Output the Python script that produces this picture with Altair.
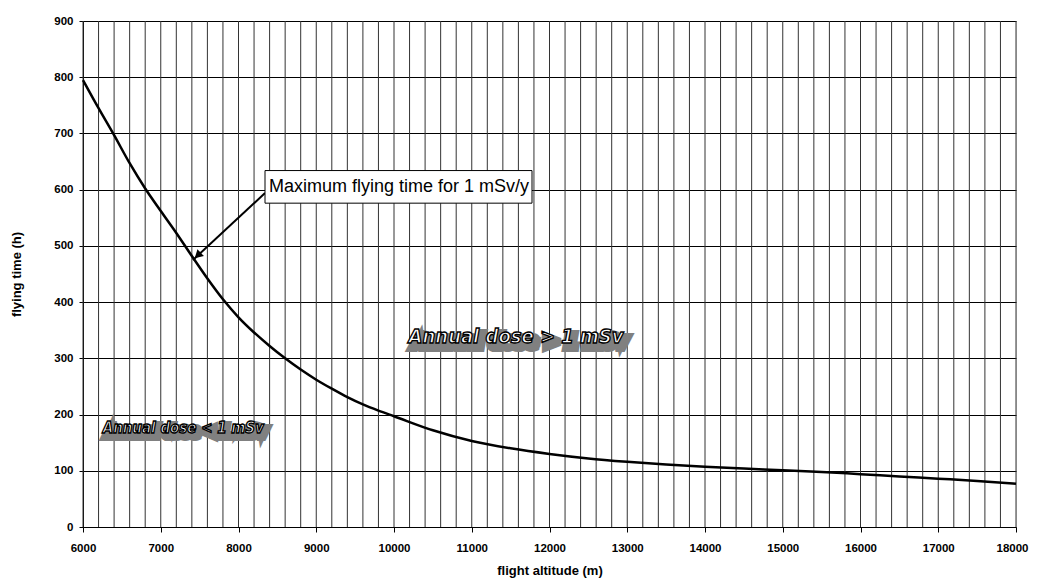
import altair as alt
import pandas as pd

# curve data
altitude = [6000, 6200, 6400, 6600, 6800, 7000, 7200, 7400, 7600, 7800, 8000,
            8200, 8400, 8600, 8800, 9000, 9200, 9400, 9600, 9800, 10000,
            10500, 11000, 11500, 12000, 12500, 13000, 13500, 14000, 14500,
            15000, 15500, 16000, 16500, 17000, 17500, 18000]
hours = [795, 745, 697, 647, 602, 562, 523, 482, 442, 405, 373,
         346, 322, 300, 280, 262, 246, 231, 218, 207, 197,
         172, 153, 140, 130, 122, 116, 111, 107, 104,
         101, 98, 94, 90, 86, 82, 77]

x_ticks = list(range(6000, 18001, 1000))
x_grid = list(range(6000, 18001, 200))
y_ticks = list(range(0, 901, 100))

# annotations (data coordinates)
label_high = ["Annual dose > 1 mSv"]
high_x, high_y = [11570], [338]
label_low = ["Annual dose < 1 mSv"]
low_x, low_y = [7290], [176]

callout_text = ["Maximum flying time for 1 mSv/y"]
callout_x1, callout_x2 = [8341], [11775]
callout_y1, callout_y2 = [634], [576]
arrow_x1, arrow_y1 = [8341], [594]
arrow_x2, arrow_y2 = [7415], [475]

df = pd.DataFrame({"alt": altitude, "h": hours})
gdf = pd.DataFrame({"g": x_grid})

xscale = alt.Scale(domain=[6000, 18000], nice=False, zero=False)
yscale = alt.Scale(domain=[0, 900], nice=False)

FONT = "Liberation Sans"
WFONT = "DejaVu Sans Condensed, Liberation Sans, sans-serif"

vgrid = alt.Chart(gdf).mark_rule(color="#333333", strokeWidth=1).encode(
    x=alt.X("g:Q", scale=xscale))

line = alt.Chart(df).mark_line(color="black", strokeWidth=2.5, interpolate="monotone").encode(
    x=alt.X("alt:Q", scale=xscale, title="flight altitude (m)",
            axis=alt.Axis(values=x_ticks, grid=False, labelOverlap=False,
                          tickSize=5, tickColor="black", domainColor="black",
                          labelFont=FONT, labelFontWeight="bold", labelFontSize=11.5,
                          labelColor="black", labelPadding=10, format="d",
                          labelOffset={"condition": {"test": "datum.value == 18000", "value": -4}, "value": 0},
                          titleFont=FONT, titleFontWeight="bold", titleFontSize=13,
                          titleColor="black", titlePadding=11, labelFlush=False)),
    y=alt.Y("h:Q", scale=yscale, title="flying time (h)",
            axis=alt.Axis(values=y_ticks, grid=True, gridColor="black",
                          gridWidth=1, gridOpacity=1, tickSize=4, labelOverlap=False,
                          tickColor="black", domainColor="black",
                          labelFont=FONT, labelFontWeight="bold", labelFontSize=11.5,
                          labelColor="black", labelPadding=6,
                          titleFont=FONT, titleFontWeight="bold", titleFontSize=13,
                          titleColor="black", titlePadding=30)),
)


def word_art(texts, xs, ys, size, off):
    d = pd.DataFrame({"t": texts, "x": xs, "y": ys})
    sh = alt.Chart(d).mark_text(
        font=WFONT, fontSize=size, fontWeight="bold", fontStyle="italic",
        color="#808080", stroke="#808080", strokeWidth=8, dx=off, dy=off + 1,
        baseline="middle"
    ).encode(x=alt.X("x:Q", scale=xscale), y=alt.Y("y:Q", scale=yscale), text="t:N")
    fr = alt.Chart(d).mark_text(
        font=WFONT, fontSize=size, fontWeight="bold", fontStyle="italic",
        color="white", stroke="black", strokeWidth=1.3, baseline="middle"
    ).encode(x=alt.X("x:Q", scale=xscale), y=alt.Y("y:Q", scale=yscale), text="t:N")
    return sh, fr


hs, hf = word_art(label_high, high_x, high_y, 20, 4)
ls, lf = word_art(label_low, low_x, low_y, 15, 3)

cdf = pd.DataFrame({"t": callout_text, "x1": callout_x1, "x2": callout_x2,
                    "y1": callout_y1, "y2": callout_y2,
                    "ax1": arrow_x1, "ay1": arrow_y1, "ax2": arrow_x2, "ay2": arrow_y2})
box = alt.Chart(cdf).mark_rect(fill="white", stroke="black", strokeWidth=1).encode(
    x=alt.X("x1:Q", scale=xscale), x2="x2:Q",
    y=alt.Y("y1:Q", scale=yscale), y2="y2:Q")
btext = alt.Chart(cdf).mark_text(font=FONT, fontSize=18, align="left", baseline="middle",
                                 dx=4, color="black").encode(
    x=alt.X("x1:Q", scale=xscale),
    y=alt.Y("mid:Q", scale=yscale), text="t:N").transform_calculate(mid="(datum.y1 + datum.y2) / 2")
arrow = alt.Chart(cdf).mark_rule(color="black", strokeWidth=2).encode(
    x=alt.X("ax1:Q", scale=xscale), x2="ax2:Q",
    y=alt.Y("ay1:Q", scale=yscale), y2="ay2:Q")
head = alt.Chart(cdf).mark_point(shape="triangle-up", filled=True, color="black",
                                 size=90, angle=227, opacity=1).encode(
    x=alt.X("hx:Q", scale=xscale), y=alt.Y("hy:Q", scale=yscale)
).transform_calculate(hx="datum.ax2 + 60", hy="datum.ay2 + 8")

chart = alt.layer(vgrid, line, arrow, head, box, btext, hs, hf, ls, lf).properties(
    width=933, height=506,
    autosize=alt.AutoSizeParams(type="none"),
    padding={"left": 75, "top": 13, "right": 13, "bottom": 53},
).configure_view(stroke="black", strokeWidth=1).configure(background="white")

chart.save("out.html", embed_options={"renderer": "svg", "actions": False})
